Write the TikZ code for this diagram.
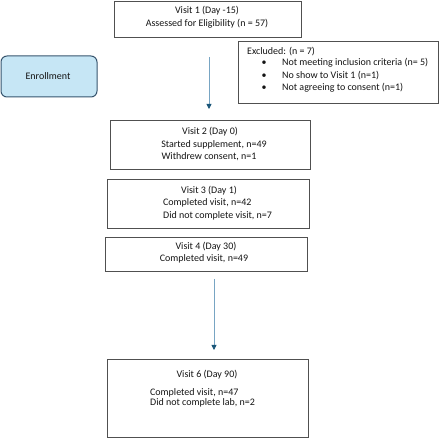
\documentclass[tikz,border=0pt]{standalone}
\usepackage{fontspec}
\setmainfont{Carlito}
\usetikzlibrary{arrows.meta}

\tikzset{every picture/.style={line width=0.75pt}}
\tikzset{
  box/.style={draw={rgb, 255:red, 80; green, 80; blue, 80 }, line width=0.9pt},
  txt/.style={inner sep=0.75pt, font=\fontsize{10}{12}\selectfont, text={rgb, 255:red, 20; green, 20; blue, 20 }},
  flow/.style={draw={rgb, 255:red, 120; green, 165; blue, 195 }, line width=0.8pt,
    -{Triangle[length=5pt,width=5pt,color={rgb, 255:red, 25; green, 85; blue, 120 }]}}
}

\begin{document}
\begin{tikzpicture}[x=1pt,y=1pt,yscale=-1,xscale=1]
\useasboundingbox (0,0) rectangle (440,438);
%Shape: Rectangle [id:visit1]
\draw [box] (114,1) rectangle (301,37) coordinate (visit1);
%Shape: Rectangle [id:excluded]
\draw [box] (238,41) rectangle (438,103) coordinate (excluded);
%Shape: Rounded Rectangle [id:enroll]
\draw [draw={rgb, 255:red, 55; green, 85; blue, 110 }, line width=1pt, fill={rgb, 255:red, 198; green, 230; blue, 245 }, rounded corners=6pt] (1,56) rectangle (97,97) coordinate (enroll);
%Shape: Rectangle [id:visit2]
\draw [box] (110,120) rectangle (310,169) coordinate (visit2);
%Shape: Rectangle [id:visit3]
\draw [box] (107,179) rectangle (309,228) coordinate (visit3);
%Shape: Rectangle [id:visit4]
\draw [box] (105,237) rectangle (307,271) coordinate (visit4);
%Shape: Rectangle [id:visit6]
\draw [box] (107,359) rectangle (308,437) coordinate (visit6);
%Straight Lines [id:arrowA]
\coordinate (arrowAstart) at (209,57);
\coordinate (arrowAend) at (209,109);
\draw [flow] (arrowAstart) -- (arrowAend);
%Straight Lines [id:arrowB]
\coordinate (arrowBstart) at (214,279);
\coordinate (arrowBend) at (214,350);
\draw [flow] (arrowBstart) -- (arrowBend);
% Text Node
\draw (207,11) node (v1title) [anchor=mid][txt] {Visit 1 (Day -15)};
% Text Node
\draw (207,24) node (v1line) [anchor=mid][txt] {Assessed for Eligibility (n = 57)};
% Text Node
\draw (246,52) node (extitle) [anchor=mid west][txt] {Excluded: (n = 7)};
% Text Node
\draw (264,63) node (exdotA) [anchor=mid][txt] {\textbullet};
\draw (281,63) node (exlineA) [anchor=mid west][txt] {Not meeting inclusion criteria (n= 5)};
% Text Node
\draw (264,76) node (exdotB) [anchor=mid][txt] {\textbullet};
\draw (281,76) node (exlineB) [anchor=mid west][txt] {No show to Visit 1 (n=1)};
% Text Node
\draw (264,88) node (exdotC) [anchor=mid][txt] {\textbullet};
\draw (281,88) node (exlineC) [anchor=mid west][txt] {Not agreeing to consent (n=1)};
% Text Node
\draw (48,77) node (enrolltext) [anchor=mid][txt] {Enrollment};
% Text Node
\draw (210,132) node (v2title) [anchor=mid][txt] {Visit 2 (Day 0)};
\draw (214,145) node (v2lineA) [anchor=mid][txt] {Started supplement, n=49};
\draw (209,157) node (v2lineB) [anchor=mid][txt] {Withdrew consent, n=1};
% Text Node
\draw (209,191) node (v3title) [anchor=mid][txt] {Visit 3 (Day 1)};
\draw (162,203) node (v3lineA) [anchor=mid west][txt] {Completed visit, n=42};
\draw (162,216) node (v3lineB) [anchor=mid west][txt] {Did not complete visit, n=7};
% Text Node
\draw (206,247) node (v4title) [anchor=mid][txt] {Visit 4 (Day 30)};
\draw (204,259) node (v4line) [anchor=mid][txt] {Completed visit, n=49};
% Text Node
\draw (207,375) node (v6title) [anchor=mid][txt] {Visit 6 (Day 90)};
\draw (149,393) node (v6lineA) [anchor=mid west][txt] {Completed visit, n=47};
\draw (149,403) node (v6lineB) [anchor=mid west][txt] {Did not complete lab, n=2};
\end{tikzpicture}
\end{document}
